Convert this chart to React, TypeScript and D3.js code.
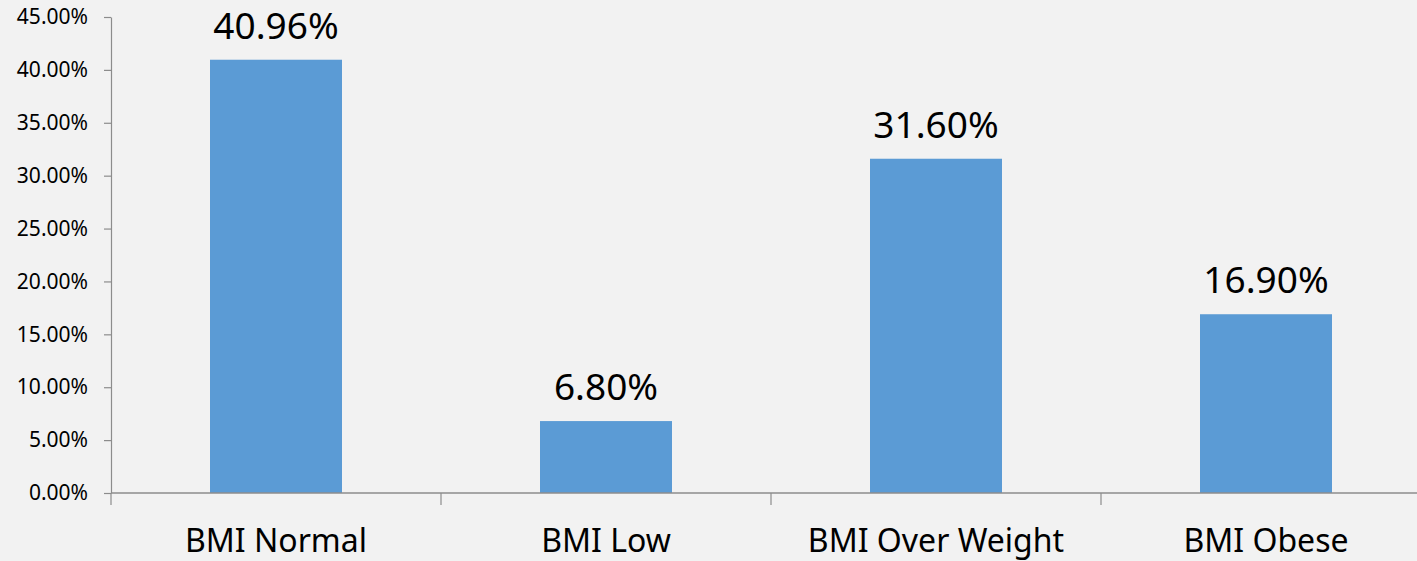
import React, { useEffect, useRef } from 'react'
import * as d3 from 'd3'

const categories = ['BMI Normal', 'BMI Low', 'BMI Over Weight', 'BMI Obese']
const values = [40.96, 6.8, 31.6, 16.9]
const valueLabels = ['40.96%', '6.80%', '31.60%', '16.90%']
const yTicks = [0, 5, 10, 15, 20, 25, 30, 35, 40, 45]

export default function App() {
  const svgRef = useRef<SVGSVGElement | null>(null)

  useEffect(() => {
    if (!svgRef.current) return
    const width = 1417
    const height = 561
    const font = '"Noto Sans", "Open Sans", sans-serif'

    const svg = d3.select(svgRef.current)
    svg.selectAll('*').remove()
    svg.attr('width', width).attr('height', height)

    // background
    svg.append('rect')
      .attr('width', width)
      .attr('height', height)
      .attr('fill', '#f2f2f2')

    const left = 111
    const step = 330
    const x = d3.scaleBand<string>()
      .domain(categories)
      .range([left, left + step * categories.length])
      .paddingInner(0.6)
      .paddingOuter(0.3)

    // plain band scale for category boundaries / ticks
    const xb = d3.scaleBand<string>()
      .domain(categories)
      .range([left, left + step * categories.length])

    const y = d3.scaleLinear().domain([0, 45]).range([493, 17])

    // bars
    svg.selectAll('rect.bar')
      .data(values)
      .enter()
      .append('rect')
      .attr('class', 'bar')
      .attr('x', (_, i) => x(categories[i]) as number)
      .attr('y', d => y(d))
      .attr('width', x.bandwidth())
      .attr('height', d => y(0) - y(d))
      .attr('fill', '#5b9bd5')

    // value labels
    svg.selectAll('text.val')
      .data(values)
      .enter()
      .append('text')
      .attr('class', 'val')
      .attr('x', (_, i) => (x(categories[i]) as number) + x.bandwidth() / 2)
      .attr('y', d => y(d) - 21)
      .attr('text-anchor', 'middle')
      .style('font-family', font)
      .style('font-size', '37px')
      .attr('fill', '#000')
      .text((_, i) => valueLabels[i])

    // y axis
    const yAxis = svg.append('g')
      .attr('transform', `translate(${left},0)`)
      .call(d3.axisLeft(y)
        .tickValues(yTicks)
        .tickSize(7)
        .tickSizeOuter(0)
        .tickPadding(16)
        .tickFormat(d => `${(d as number).toFixed(2)}%`))
    yAxis.select('.domain').attr('stroke', '#8c8c8c').attr('stroke-width', 1.2)
    yAxis.selectAll('.tick line').attr('stroke', '#8c8c8c').attr('stroke-width', 1.2)
    yAxis.selectAll('.tick text')
      .attr('fill', '#000')
      .style('font-family', font)
      .style('font-size', '21px')

    // x axis line
    svg.append('line')
      .attr('x1', left)
      .attr('x2', width)
      .attr('y1', y(0))
      .attr('y2', y(0))
      .attr('stroke', '#8c8c8c')
      .attr('stroke-width', 1.6)

    // x axis boundary ticks
    svg.selectAll('line.xtick')
      .data(categories)
      .enter()
      .append('line')
      .attr('class', 'xtick')
      .attr('x1', d => xb(d) as number)
      .attr('x2', d => xb(d) as number)
      .attr('y1', y(0))
      .attr('y2', y(0) + 12)
      .attr('stroke', '#8c8c8c')
      .attr('stroke-width', 1.2)

    // category labels
    svg.selectAll('text.cat')
      .data(categories)
      .enter()
      .append('text')
      .attr('class', 'cat')
      .attr('x', d => (xb(d) as number) + xb.bandwidth() / 2)
      .attr('y', 552)
      .attr('text-anchor', 'middle')
      .style('font-family', font)
      .style('font-size', '32px')
      .attr('fill', '#000')
      .text(d => d)
  }, [])

  return (
    <svg ref={svgRef} style={{ position: 'fixed', left: 0, top: 0, display: 'block' }}></svg>
  )
}
